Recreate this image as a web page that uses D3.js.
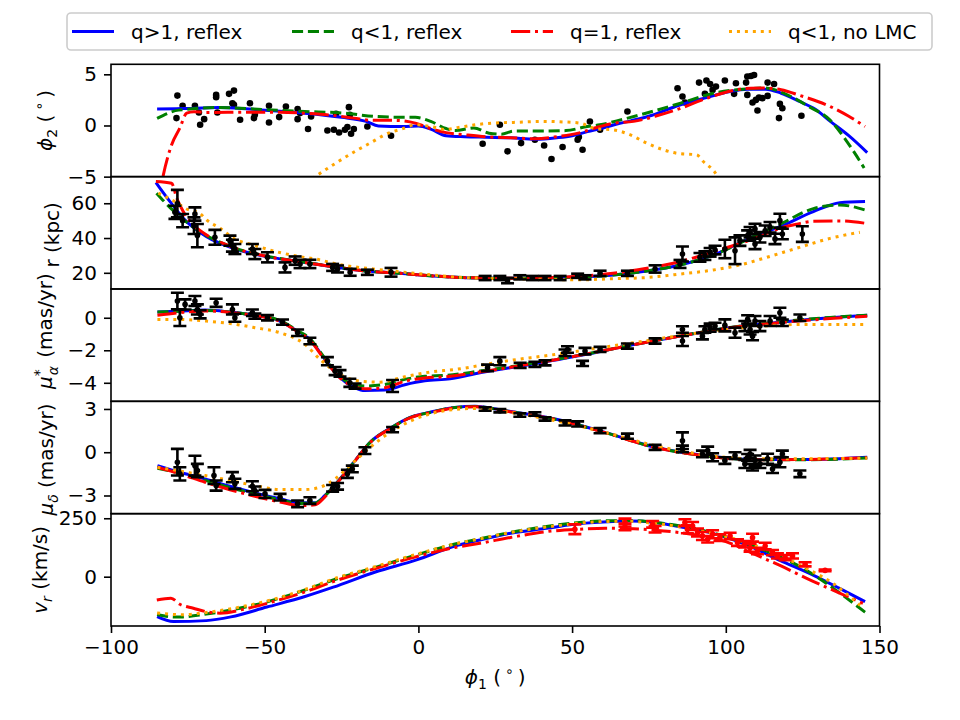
<!DOCTYPE html>
<meta charset="utf-8">
<script src="https://d3js.org/d3.v7.min.js"></script>
<style>
  body { margin: 0; background: #fff; }
  text { font-family: "DejaVu Sans", sans-serif; }
</style>
<div id="my_dataviz"></div>

<script>
// ---- model tracks, [phi1, value] ----
var phi2_qgt1 = [[-85,1.6],[-77,1.65],[-65,1.75],[-55,1.6],[-45,1.4],[-37,1.2],[-25,0.8],[-17,0.4],[-13,-0.05],[-5,-0.1],[0,-0.05],[4,-0.35],[9,-1.0],[15,-1.1],[22,-1.15],[30,-1.2],[38,-1.35],[45,-1.2],[50,-1.0],[55,-0.6],[60,-0.25],[64,0.1],[69,0.45],[76,1.0],[85,2.0],[94,2.75],[101,3.3],[107,3.55],[113,3.55],[118,3.15],[124,2.35],[129,1.6],[134,0.4],[140,-1.0],[146,-2.65]];
var phi2_qlt1 = [[-85,0.7],[-78,1.5],[-65,1.75],[-50,1.55],[-37,1.37],[-24,1.2],[-14,0.88],[-5,0.8],[-1,0.8],[4,0.4],[9,-0.3],[12,-0.5],[18,-0.25],[23,-0.75],[27,-0.85],[31,-0.55],[40,-0.55],[48,-0.5],[55,-0.1],[59,0.07],[66,0.56],[74,1.2],[85,2.15],[96,3.15],[107,3.58],[113,3.67],[120,3.0],[127,1.85],[134,0.5],[139,-1.4],[145,-4.15]];
var phi2_q1 = [[-85,-8],[-83.1,-5],[-80.3,-1.9],[-77.6,-0.25],[-75.4,1.2],[-73,1.35],[-69,1.27],[-55,1.3],[-45,1.3],[-37,1.2],[-28,1.0],[-21,0.72],[-15,0.5],[-8,0.5],[-1,0.23],[4,-0.3],[9,-0.7],[15,-0.9],[22,-1.1],[30,-1.2],[38,-1.3],[45,-1.1],[52,-0.75],[58,-0.2],[63,0.2],[70,0.4],[77,0.9],[85,1.65],[94,2.68],[102,3.4],[108,3.65],[112,3.67],[118,3.5],[124,2.95],[134,1.85],[140,0.9],[145.3,-0.1]];
var phi2_nolmc = [[-45,-7.5],[-33.6,-5],[-27,-3.7],[-20.6,-2.53],[-15,-1.6],[-10.9,-0.9],[-5,-0.3],[-1,0.07],[4,-0.1],[8.7,-0.4],[13,-0.2],[18.4,0.07],[25,0.25],[31,0.3],[40,0.4],[47,0.35],[52.6,0.23],[58,-0.33],[63.3,-0.42],[68.8,-0.9],[74.3,-1.72],[79.6,-2.37],[85.1,-2.76],[90.5,-2.86],[92.6,-3.5],[96.5,-4.6],[100,-6.5]];

var r_qgt1 = [[-85.4,71.9],[-80.8,60.9],[-75.4,49.4],[-68.9,40.8],[-60.2,34.1],[-49.4,29.3],[-38.5,26.4],[-27.7,23.5],[-16.8,21],[-6,19.7],[4.8,18.2],[15.7,17.2],[30,16.8],[47,17.3],[63.3,18.7],[74.3,21],[85.1,24.5],[95.9,30.2],[108.9,40.8],[117.6,46.5],[128.5,55.2],[137.1,60.3],[145.3,61]];
var r_qlt1 = [[-85.2,65.8],[-79.9,56],[-71.1,43.7],[-60.2,34.5],[-49.4,29.6],[-38.5,26.5],[-27.7,23.5],[-16.8,21],[-6,19.7],[4.8,18.2],[15.7,17.2],[30,16.8],[47,17.3],[63.3,18.7],[74.3,21],[85.1,24.5],[95.9,30.2],[108.9,40.8],[117.6,47.9],[128.5,56.9],[137.1,59],[145.3,56.1]];
var r_q1 = [[-85.4,72.5],[-80.3,71.5],[-78.6,62.9],[-76.5,55.2],[-73.2,47.5],[-68.9,41.8],[-60.2,34.5],[-49.4,29.5],[-38.5,26.4],[-27.7,23.5],[-16.8,21],[-6,19.7],[4.8,18.2],[15.7,17.2],[30,16.9],[47,17.5],[63.3,19.7],[74.3,22.6],[85.1,26.4],[95.9,32.1],[110,40.2],[117.6,45.6],[123,47.9],[128.5,49.6],[137.1,49.8],[145.3,48.5]];
var r_nolmc = [[-84.6,65.8],[-79.2,60.9],[-75.4,56.7],[-71.1,54.2],[-68.9,50.4],[-64.5,45.6],[-60.2,39.9],[-53.7,36],[-46.1,32.1],[-38.5,29.3],[-32,27.4],[-27.7,25.5],[-21.2,23.5],[-16.8,22.6],[-6,20.6],[4.8,18.7],[15.7,17.2],[30,16.6],[52.6,16],[63.3,16.6],[74.3,17.3],[85.1,19.3],[95.9,21.6],[104.6,24.5],[112.2,28.3],[123,34.1],[133.9,39.8],[143.6,43.3]];

var pmra_qgt1 = [[-84.9,0.35],[-77.6,0.41],[-69.4,0.47],[-61.3,0.35],[-53.2,0.15],[-45,-0.2],[-39.4,-0.82],[-35.3,-1.33],[-30.4,-2.56],[-25.5,-3.69],[-20.6,-4.31],[-17.4,-4.48],[-10.9,-4.45],[-4.4,-4.12],[2.1,-3.88],[10.3,-3.76],[20,-3.38],[36.3,-2.87],[52.6,-2.32],[68.8,-1.7],[85.1,-1.13],[101.4,-0.61],[117.6,-0.27],[133.9,0],[146,0.15]];
var pmra_qlt1 = [[-84.9,0.35],[-77.6,0.4],[-69.4,0.45],[-61.3,0.35],[-53.2,0.15],[-45,-0.18],[-39.4,-0.78],[-35.3,-1.28],[-30.4,-2.5],[-25.5,-3.6],[-20.6,-4.15],[-17.4,-4.2],[-10.9,-4.1],[-4.4,-3.79],[2.1,-3.6],[8.7,-3.55],[20,-3.28],[36.3,-2.82],[52.6,-2.3],[68.8,-1.7],[85.1,-1.12],[101.4,-0.6],[117.6,-0.25],[133.9,0.02],[146,0.15]];
var pmra_q1 = [[-84.9,0.15],[-77.6,0.31],[-69.4,0.42],[-61.3,0.33],[-53.2,0.13],[-45,-0.22],[-39.4,-0.85],[-35.3,-1.38],[-30.4,-2.6],[-25.5,-3.7],[-20.6,-4.25],[-17.4,-4.37],[-10.9,-4.3],[-4.4,-3.9],[2.1,-3.7],[8.7,-3.63],[20,-3.34],[36.3,-2.85],[52.6,-2.3],[68.8,-1.7],[85.1,-1.13],[101.4,-0.62],[117.6,-0.3],[133.9,-0.05],[146,0.1]];
var pmra_nolmc = [[-84.9,-0.1],[-77.6,-0.1],[-69.4,-0.2],[-61.3,-0.35],[-53.2,-0.61],[-45,-0.92],[-36.9,-1.64],[-32,-2.56],[-25.5,-3.49],[-19,-3.9],[-12.5,-3.96],[-4.4,-3.63],[3.8,-3.34],[11.9,-3.18],[28.2,-2.67],[44.4,-2.26],[60.7,-1.8],[77,-1.33],[93.2,-0.88],[109.5,-0.55],[125.8,-0.41],[145.3,-0.41]];

var pmdec_qgt1 = [[-84.9,-0.93],[-77.6,-1.39],[-69.4,-1.85],[-61.3,-2.36],[-53.2,-2.82],[-45,-3.23],[-38.5,-3.51],[-33.6,-3.51],[-30.4,-3.0],[-25.5,-1.85],[-20.6,-0.58],[-15.7,0.69],[-9.2,1.66],[-2.7,2.42],[3.8,2.77],[11.9,3.11],[18.4,3.18],[28.2,2.88],[44.4,2.3],[60.7,1.38],[77,0.34],[93.2,-0.23],[109.5,-0.51],[125.8,-0.51],[146,-0.35]];
var pmdec_qlt1 = [[-84.9,-1.11],[-77.6,-1.45],[-69.4,-1.95],[-61.3,-2.45],[-53.2,-2.9],[-45,-3.3],[-38.5,-3.55],[-33.6,-3.53],[-30.4,-3.02],[-25.5,-1.87],[-20.6,-0.6],[-15.7,0.68],[-9.2,1.65],[-2.7,2.4],[3.8,2.76],[11.9,3.1],[18.4,3.17],[28.2,2.87],[44.4,2.29],[60.7,1.37],[77,0.33],[93.2,-0.24],[109.5,-0.52],[125.8,-0.52],[146,-0.4]];
var pmdec_q1 = [[-84.9,-1.04],[-77.6,-1.5],[-69.4,-2.08],[-61.3,-2.6],[-53.2,-3.05],[-45,-3.45],[-38.5,-3.7],[-33.6,-3.65],[-30.4,-3.1],[-25.5,-1.9],[-20.6,-0.6],[-15.7,0.67],[-9.2,1.63],[-2.7,2.38],[3.8,2.74],[11.9,3.07],[18.4,3.15],[28.2,2.86],[44.4,2.28],[60.7,1.36],[77,0.33],[93.2,-0.25],[109.5,-0.52],[125.8,-0.5],[146,-0.38]];
var pmdec_nolmc = [[-84.9,-1.04],[-69.4,-1.62],[-61.3,-1.96],[-53.2,-2.31],[-45,-2.59],[-36.9,-2.59],[-32,-2.43],[-27.1,-1.85],[-22.3,-0.93],[-15.7,0.34],[-9.2,1.38],[-1.1,2.3],[8.7,2.88],[18.4,3.04],[28.2,2.81],[44.4,2.19],[60.7,1.38],[77,0.46],[93.2,-0.19],[109.5,-0.46],[146,-0.42]];

var vr_qgt1 = [[-85,-171],[-79.7,-192],[-69,-188],[-61,-172],[-49.3,-130],[-36.9,-85],[-27.7,-45],[-14,20],[-0.6,72],[11.9,131],[20,157],[30,186],[41.7,207],[52,226],[63.3,236],[68.8,238],[77,232],[85.1,214],[93.2,194],[106.8,136],[117.6,70],[128.4,7],[137,-50],[145.3,-107]];
var vr_qlt1 = [[-85,-162],[-79.2,-173],[-76.5,-172],[-69,-160],[-60,-140],[-49.3,-108],[-36.9,-57],[-27.7,-14],[-14,40],[-0.6,93],[11.9,140],[20,162],[30,190],[44.4,220],[60.7,239],[68.8,240],[77,232],[93.2,196],[109.5,128],[125.8,31],[135,-50],[145.3,-152]];
var vr_q1 = [[-85.1,-100],[-80.5,-92],[-77.6,-118],[-73.2,-135],[-68.9,-150],[-64.5,-156],[-57,-140],[-49.3,-114],[-36.9,-65],[-27.7,-21],[-14,35],[-0.6,86],[11.9,125],[20,143],[30,168],[41.7,193],[52.6,203],[60.7,207],[70,205],[77,199],[90.5,178],[100,150],[109.5,95],[117.6,48],[128.4,-20],[137,-70],[144.6,-114]];
var vr_nolmc = [[-85,-155],[-79.2,-162],[-76.5,-163],[-69,-153],[-60,-135],[-49.3,-104],[-36.9,-55],[-27.7,-10],[-14,43],[-0.6,96],[11.9,140],[20,162],[30,189],[44.4,217],[60.7,236],[68.8,237],[77,228],[93.2,193],[109.5,134],[125.8,38],[135,-30],[143.7,-123]];

// ---- observed stream, [phi1, value] or [phi1, value, error] ----
var phi2Obs = [[-78.4,2.92],[-78.7,0.72],[-76.7,1.92],[-72.7,1.92],[-71.4,1.27],[-69.7,0.62],[-71,0.07],[-65.8,2.99],[-65.8,2.77],[-65.4,1.27],[-61.6,3.09],[-60,3.41],[-60.5,2.18],[-60,2.02],[-58,0.56],[-54.8,2.18],[-53.5,0.72],[-53.2,1.04],[-48.6,1.92],[-48.6,0.29],[-45.3,0.82],[-43.1,1.85],[-39.3,1.6],[-39.3,0.62],[-38.5,1.21],[-35.9,-0.35],[-34.9,0.88],[-29.6,-0.49],[-27.5,-0.42],[-26.8,1.14],[-25.8,-0.68],[-23.9,-0.42],[-23.1,-0.16],[-22.6,1.79],[-22.3,1.04],[-21.9,-0.81],[-21,-0.35],[-16.6,-0.1],[-8.9,-1.0],[20.9,-1.78],[26.5,0.07],[29,-2.53],[33.4,-1.72],[37.9,-1.39],[40.9,-1.95],[43.3,-3.28],[46.9,-2.1],[51.8,-1.39],[52.2,-1.13],[53.4,-2.37],[55.8,0.39],[59.1,-0.42],[68,1.36],[84.3,3.64],[85.9,2.83],[86.7,2.24],[91.3,4.19],[93.2,3.09],[93.7,4.39],[94.9,4.06],[95.7,3.48],[96.8,3.8],[99.7,4.39],[102.7,3.09],[103.3,4.13],[106.6,4.19],[107,4.78],[108.2,4.84],[109.2,4.94],[109.8,2.5],[110.3,1.46],[110.8,2.73],[107,2.99],[108.7,2.24],[111.9,2.67],[113.6,4.19],[113.6,2.89],[115.7,4.06],[117.6,2.11],[117.3,0.72],[118.4,1.69],[124.6,0.95]];
var rObs = [[-78.4,59.8,7.9],[-79.2,54.8,3.8],[-76.7,50,3.8],[-72.7,53.8,3.8],[-73,47.1,4.8],[-71.9,41.4,6.7],[-66.2,40.4,4.3],[-61.3,38.5,2.9],[-60.5,35.6,3.4],[-59.7,33.7,2.9],[-54,33.7,2.9],[-53.2,30.8,2.9],[-49.1,28.9,2.9],[-43.4,23.1,2.9],[-40.1,27,2.4],[-38.5,25.1,2.4],[-35.3,25.1,2.4],[-27.9,23.1,2],[-26.3,22.2,2],[-22.2,20.3,2],[-16.6,20.3,1.5],[-8.9,20.3,2.5],[21.7,17,1.2],[26.5,17,1.2],[29,15.5,1.5],[33,17.4,1.2],[37.1,17,1.2],[41.2,17,1.2],[46.1,17,1.2],[51.8,18.3,1.2],[54.2,17.4,1.2],[59.1,19.7,1.5],[68,19.7,1.5],[77,22.2,2.1],[85.1,25.1,2.3],[85.9,30.8,4.3],[91.6,28.9,2.5],[93.2,29.9,2.5],[94.9,31.8,2.5],[96.5,33.1,2.5],[99.7,33.7,5.3],[103,32.7,7.7],[104.6,38.5,3],[107.1,41.4,3],[107.9,43.3,3],[109.5,45.2,3],[109.5,36.6,3],[111.1,40.4,3],[112.8,44.2,3],[114.4,46.2,3],[116,39.5,3],[117.6,50,4],[118.4,42.3,3],[124.9,42.3,4.5]];
var pmraObs = [[-78.4,1.03,0.51],[-77.6,0.0,0.51],[-75.9,0.82,0.31],[-72.7,1.03,0.31],[-71.9,0.51,0.31],[-71.0,0.21,0.25],[-65.8,0.92,0.25],[-60.5,0.51,0.31],[-59.7,0.0,0.25],[-54.0,0.31,0.2],[-53.2,0.1,0.16],[-49.1,0.0,0.16],[-44.2,-0.27,0.16],[-39.3,-0.92,0.2],[-35.3,-1.43,0.2],[-29.6,-2.67,0.25],[-27.1,-3.28,0.25],[-25.5,-3.42,0.2],[-22.3,-4.0,0.25],[-20.6,-4.2,0.16],[-8.4,-4.2,0.37],[22.5,-3.08,0.2],[26.5,-2.67,0.25],[33.1,-2.93,0.16],[37.9,-2.87,0.16],[41.2,-2.77,0.16],[47.7,-2.15,0.2],[48.5,-1.95,0.2],[53.4,-2.81,0.16],[54.2,-2.05,0.2],[59.1,-1.95,0.16],[68,-1.74,0.16],[77,-1.43,0.16],[85.9,-0.72,0.2],[85.9,-1.43,0.31],[92.4,-1.13,0.2],[93.2,-0.72,0.2],[94.9,-0.61,0.25],[96.5,-0.51,0.2],[99.7,-0.47,0.37],[103,-0.92,0.31],[106.2,-0.51,0.31],[107.1,-0.1,0.25],[107.9,-0.72,0.31],[108.7,-1.13,0.25],[109.5,-0.2,0.31],[111.1,-0.51,0.31],[114.4,-0.2,0.31],[117.6,0.31,0.31],[118.4,-0.31,0.2],[124.1,0.0,0.2]];
var pmdecObs = [[-78.4,-0.69,0.92],[-77.6,-1.5,0.46],[-72.7,-0.93,0.69],[-71.9,-1.27,0.46],[-66.5,-1.62,0.58],[-65.8,-2.31,0.35],[-60.5,-1.73,0.35],[-59.7,-2.19,0.35],[-54,-2.36,0.35],[-53.2,-2.66,0.28],[-49.9,-2.89,0.28],[-45,-3.12,0.23],[-39.3,-3.58,0.23],[-35.3,-3.35,0.23],[-27.9,-2.5,0.23],[-26.3,-2.36,0.23],[-23.1,-1.5,0.28],[-21.5,-1.16,0.23],[-17.4,0.11,0.23],[-8.4,1.57,0.18],[21.7,3.0,0.12],[26.5,2.88,0.12],[33,2.58,0.12],[37.9,2.65,0.12],[41.2,2.31,0.12],[47.7,2.03,0.18],[51.8,1.96,0.18],[59.1,1.5,0.18],[68,1.11,0.18],[77,0.34,0.18],[85.9,0.8,0.58],[85.9,0.23,0.23],[92.4,-0.12,0.23],[94.1,0.11,0.28],[95.7,-0.35,0.28],[99.7,-0.58,0.23],[103,-0.23,0.23],[106.2,-0.81,0.28],[107.1,-0.35,0.23],[107.9,-0.12,0.28],[108.7,-1.04,0.23],[109.5,-0.58,0.35],[111.1,-0.81,0.28],[113.6,-0.46,0.35],[115.2,-1.16,0.28],[117.6,-0.69,0.35],[118.4,-0.12,0.23],[124.1,-1.5,0.23]];
var vrObs = [[50.9,203,21],[67.2,231.5,17],[67.2,213,14],[76.2,224,14],[77,203,14],[86.7,231.5,14],[87.5,203,17],[89.2,217,17],[90.8,189,17],[92.4,174,17],[94.1,160,14],[95.7,181.5,17],[98.1,167,14],[101.4,174,14],[103.8,146,14],[106.2,139,14],[107.9,124,17],[108.7,167,17],[110.3,110,14],[112.8,131,14],[115.2,103,11],[116.8,89,11],[119.3,81.5,11],[121.7,89,11],[125.8,53,9],[132.3,27,4]];

// ---- axis ticks ----
var phi1Ticks = [-100, -50, 0, 50, 100, 150];
var phi2Ticks = [-5, 0, 5];
var rTicks = [20, 40, 60];
var pmraTicks = [-4, -2, 0];
var pmdecTicks = [-3, 0, 3];
var vrTicks = [0, 250];

var modelNames = ["q>1, reflex", "q<1, reflex", "q=1, reflex", "q<1, no LMC"];
var modelColors = ["#0000ff", "#008000", "#ff0000", "#ffa500"];
var modelDash = [null, "11.1,4.8", "19.2,4.8,3,4.8", "3,4.95"];

// ---- layout ----
var margin = {left: 111, top: 64.3},
    width = 768.5,
    panelH = 112.34;

var svg = d3.select("#my_dataviz")
  .append("svg")
    .attr("width", 960)
    .attr("height", 720);

var x = d3.scaleLinear().domain([-100, 150]).range([0, width]);
var fmt = d3.format("d");

// label pieces: [text, size, dy, italic, dx]
var panels = [
  {curves: [phi2_qgt1, phi2_qlt1, phi2_q1, phi2_nolmc], domain: [-5, 5.98], ticks: phi2Ticks, dots: phi2Obs, labelX: 45, labelDy: 0,
   label: [["ϕ",20,0,1],["2",14,5,0],[" (\u2009",20,-5,0],["∘",14,-8,0],["\u2009)",20,8,0]]},
  {curves: [r_qgt1, r_qlt1, r_q1, r_nolmc], domain: [10.7, 75.3], ticks: rTicks, bars: rObs, barColor: "black", labelX: 52, labelDy: 2,
   label: [["r (kpc)",20,0,0]]},
  {curves: [pmra_qgt1, pmra_qlt1, pmra_q1, pmra_nolmc], domain: [-5.14, 1.77], ticks: pmraTicks, bars: pmraObs, barColor: "black", labelX: 45, labelDy: -14,
   label: [["μ",20,0,1],["*",14,-8,0],["α",14,14,1,-6],[" (mas/yr)",20,-6,0,2]]},
  {curves: [pmdec_qgt1, pmdec_qlt1, pmdec_q1, pmdec_nolmc], domain: [-4.26, 3.53], ticks: pmdecTicks, bars: pmdecObs, barColor: "black", labelX: 46, labelDy: 2,
   label: [["μ",20,0,1],["δ",14,5,1],[" (mas/yr)",20,-5,0]]},
  {curves: [vr_qgt1, vr_qlt1, vr_q1, vr_nolmc], domain: [-211, 269.7], ticks: vrTicks, bars: vrObs, barColor: "red", labelX: 40, labelDy: 0,
   label: [["v",20,0,1],["r",14,5,1],[" (km/s)",20,-5,0]]}
];

function addPieces(t, pieces) {
  pieces.forEach(function(p) {
    var s = t.append("tspan").text(p[0]).attr("font-size", p[1]).attr("dy", p[2]);
    if (p[3]) s.attr("font-style", "italic");
    if (p[4]) s.attr("dx", p[4]);
  });
}

panels.forEach(function(p, i) {
  var g = svg.append("g")
    .attr("transform", "translate(" + margin.left + "," + (margin.top + i * panelH) + ")");
  var y = d3.scaleLinear().domain(p.domain).range([panelH, 0]);

  g.append("clipPath").attr("id", "clip" + i)
    .append("rect").attr("width", width).attr("height", panelH);
  var plot = g.append("g").attr("clip-path", "url(#clip" + i + ")");

  // scatter of stream stars (under the tracks)
  if (p.dots) {
    plot.selectAll("circle.star")
      .data(p.dots)
      .join("circle")
        .attr("class", "star")
        .attr("cx", d => x(d[0]))
        .attr("cy", d => y(d[1]))
        .attr("r", 3.3)
        .attr("fill", "black");
  }

  // model tracks
  var line = d3.line()
    .x(d => x(d[0]))
    .y(d => y(d[1]))
    .curve(d3.curveMonotoneX);
  p.curves.forEach(function(c, k) {
    plot.append("path")
      .datum(c)
      .attr("d", line)
      .attr("fill", "none")
      .attr("stroke", modelColors[k])
      .attr("stroke-width", 3)
      .attr("stroke-dasharray", modelDash[k]);
  });

  // error bars
  if (p.bars) {
    var eb = plot.selectAll("g.bar")
      .data(p.bars)
      .join("g")
        .attr("class", "bar")
        .attr("stroke", p.barColor)
        .attr("stroke-width", 2.6);
    eb.append("line")
      .attr("x1", d => x(d[0])).attr("x2", d => x(d[0]))
      .attr("y1", d => y(d[1] - d[2])).attr("y2", d => y(d[1] + d[2]));
    eb.append("line")
      .attr("x1", d => x(d[0]) - 6.5).attr("x2", d => x(d[0]) + 6.5)
      .attr("y1", d => y(d[1] - d[2])).attr("y2", d => y(d[1] - d[2]));
    eb.append("line")
      .attr("x1", d => x(d[0]) - 6.5).attr("x2", d => x(d[0]) + 6.5)
      .attr("y1", d => y(d[1] + d[2])).attr("y2", d => y(d[1] + d[2]));
    eb.append("circle")
      .attr("cx", d => x(d[0])).attr("cy", d => y(d[1]))
      .attr("r", 2.8).attr("fill", p.barColor).attr("stroke", "none");
  }

  // y axis
  var ya = g.append("g")
    .call(d3.axisLeft(y).tickValues(p.ticks).tickFormat(fmt).tickSize(7).tickPadding(7));
  ya.select(".domain").remove();
  ya.attr("font-size", 20).attr("font-family", "DejaVu Sans");
  ya.selectAll(".tick line").attr("stroke-width", 1.6);

  // x axis on the bottom panel only
  if (i == panels.length - 1) {
    var xa = g.append("g")
      .attr("transform", "translate(0," + panelH + ")")
      .call(d3.axisBottom(x).tickValues(phi1Ticks).tickFormat(fmt).tickSize(7).tickPadding(7));
    xa.select(".domain").remove();
    xa.attr("font-size", 20).attr("font-family", "DejaVu Sans");
    xa.selectAll(".tick line").attr("stroke-width", 1.6);
  }

  // frame
  g.append("rect")
    .attr("width", width)
    .attr("height", panelH)
    .attr("fill", "none")
    .attr("stroke", "black")
    .attr("stroke-width", 1.6);

  // y label
  var yl = svg.append("text")
    .attr("transform", "translate(" + p.labelX + "," + (margin.top + (i + 0.5) * panelH + p.labelDy) + ")rotate(-90)")
    .attr("text-anchor", "middle")
    .attr("y", 7)
    .attr("fill", "black");
  addPieces(yl, p.label);
});

// x label
var xl = svg.append("text")
  .attr("x", margin.left + width / 2)
  .attr("y", 684)
  .attr("text-anchor", "middle");
addPieces(xl, [["ϕ",20,0,1],["1",14,5,0],[" (\u2009",20,-5,0],["∘",14,-8,0],["\u2009)",20,8,0]]);

// legend
var legend = svg.append("g");
legend.append("rect")
  .attr("x", 67).attr("y", 13)
  .attr("width", 865).attr("height", 37)
  .attr("rx", 4)
  .attr("fill", "white")
  .attr("stroke", "#cccccc")
  .attr("stroke-width", 1.6);
var handleX = [72, 292, 511, 729];
modelNames.forEach(function(name, k) {
  legend.append("line")
    .attr("x1", handleX[k]).attr("x2", handleX[k] + 42)
    .attr("y1", 31.5).attr("y2", 31.5)
    .attr("stroke", modelColors[k])
    .attr("stroke-width", 3)
    .attr("stroke-dasharray", modelDash[k]);
  legend.append("text")
    .attr("x", handleX[k] + 59)
    .attr("y", 38.5)
    .attr("font-size", 20)
    .text(name);
});
</script>
